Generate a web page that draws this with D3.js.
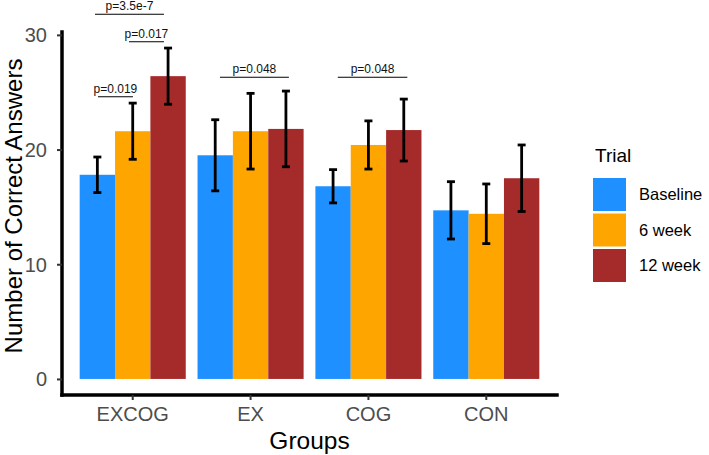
<!DOCTYPE html>
<html><head><meta charset="utf-8">
<script src="https://cdn.jsdelivr.net/npm/d3@7"></script>
<style>body{margin:0;background:#fff}svg{display:block}</style>
</head><body>
<svg id="chart" width="709" height="455"></svg>
<script>
const groups = ["EXCOG", "EX", "COG", "CON"];
const trials = ["Baseline", "6 week", "12 week"];
const trialColors = ["#1E90FF", "#FFA500", "#A52A2A"];
const baselineMean = [17.8, 19.5, 16.8, 14.7];
const baselineErr  = [1.55, 3.1, 1.45, 2.5];
const week6Mean    = [21.6, 21.6, 20.4, 14.4];
const week6Err     = [2.45, 3.3, 2.1, 2.6];
const week12Mean   = [26.4, 21.8, 21.7, 17.5];
const week12Err    = [2.45, 3.3, 2.7, 2.9];
const yTicks = [0, 10, 20, 30];
// significance brackets (x in category units, group i centred at i+1)
const pLabels = ["p=0.019", "p=0.017", "p=3.5e-7", "p=0.048", "p=0.048"];
const pFrom   = [0.705, 0.968, 0.68, 1.74, 2.74];
const pTo     = [1.002, 1.265, 1.265, 2.325, 3.33];
const pY      = [24.6, 29.4, 31.8, 26.3, 26.3];

(function () {
const meansByTrial = [baselineMean, week6Mean, week12Mean];
const errsByTrial = [baselineErr, week6Err, week12Err];
const data = [];
groups.forEach((g, gi) => trials.forEach((t, ti) => data.push({
  group: g, trial: t, ti: ti, value: meansByTrial[ti][gi], err: errsByTrial[ti][gi]
})));

const svg = d3.select("#chart");
const pLeft = 62, pRight = 557, pTop = 32, pBottom = 395;
const font = "'Liberation Sans', Arial, Helvetica, sans-serif";

const x = d3.scaleBand().domain(groups).range([pLeft, pRight]).paddingInner(0.1).paddingOuter(0.15);
const xInner = d3.scaleBand().domain(trials).range([0, x.bandwidth()]);
const xu = d3.scaleLinear().domain([0.4, 4.6]).range([pLeft, pRight]);
const y = d3.scaleLinear().domain([-1.4, 30.25]).range([pBottom, pTop]);
const color = d3.scaleOrdinal().domain(trials).range(trialColors);

// bars
svg.append("g").selectAll("rect").data(data).join("rect")
  .attr("x", d => x(d.group) + xInner(d.trial))
  .attr("width", xInner.bandwidth())
  .attr("y", d => y(d.value))
  .attr("height", d => y(0) - y(d.value))
  .attr("fill", d => color(d.trial));

// error bars
const eb = svg.append("g").attr("stroke", "#000").attr("stroke-width", 2.8);
data.forEach(d => {
  const cx = x(d.group) + xInner(d.trial) + xInner.bandwidth() / 2;
  eb.append("line").attr("x1", cx).attr("x2", cx).attr("y1", y(d.value - d.err)).attr("y2", y(d.value + d.err));
  eb.append("line").attr("x1", cx - 4).attr("x2", cx + 4).attr("y1", y(d.value - d.err)).attr("y2", y(d.value - d.err));
  eb.append("line").attr("x1", cx - 4).attr("x2", cx + 4).attr("y1", y(d.value + d.err)).attr("y2", y(d.value + d.err));
});

// axes
const yAxis = svg.append("g").attr("transform", `translate(${pLeft},0)`)
  .call(d3.axisLeft(y).tickValues(yTicks).tickSize(5).tickSizeOuter(0).tickPadding(10));
const xAxis = svg.append("g").attr("transform", `translate(0,${pBottom})`)
  .call(d3.axisBottom(x).tickSize(5).tickSizeOuter(0));
[yAxis, xAxis].forEach(a => {
  a.select(".domain").attr("stroke", "#000").attr("stroke-width", 3.5).attr("stroke-linecap", "square");
  a.selectAll(".tick line").attr("stroke", "#333").attr("stroke-width", 2);
  a.selectAll(".tick text").attr("font-family", font).attr("font-size", 20).attr("fill", "#4d4d4d");
});
yAxis.select(".domain").attr("d", `M0,${pTop}V${pBottom}`);
xAxis.select(".domain").attr("d", `M${pLeft},0H${pRight}`);
yAxis.selectAll(".tick text").attr("dy", "0.35em");
xAxis.selectAll(".tick text").attr("y", 26).attr("dy", 0);

// axis titles
svg.append("text").attr("transform", `translate(22,${(pTop + 380) / 2}) rotate(-90)`)
  .attr("text-anchor", "middle").attr("font-family", font).attr("font-size", 24).attr("fill", "#000")
  .text("Number of Correct Answers");
svg.append("text").attr("x", (pLeft + pRight) / 2).attr("y", 449)
  .attr("text-anchor", "middle").attr("font-family", font).attr("font-size", 24.5).attr("fill", "#000")
  .text("Groups");

// significance brackets
const sig = svg.append("g");
pLabels.forEach((lab, i) => {
  sig.append("line").attr("x1", xu(pFrom[i])).attr("x2", xu(pTo[i]))
    .attr("y1", y(pY[i])).attr("y2", y(pY[i])).attr("stroke", "#000").attr("stroke-width", 1.1);
  sig.append("text").attr("x", (xu(pFrom[i]) + xu(pTo[i])) / 2).attr("y", y(pY[i]) - 4)
    .attr("text-anchor", "middle").attr("font-family", font).attr("font-size", 12).attr("fill", "#111")
    .text(lab);
});

// legend
const lg = svg.append("g");
lg.append("text").attr("x", 595).attr("y", 162).attr("font-family", font).attr("font-size", 19)
  .attr("fill", "#000").text("Trial");
trials.forEach((t, i) => {
  const ky = 178 + i * 35.5;
  lg.append("rect").attr("x", 593).attr("y", ky).attr("width", 33).attr("height", 33).attr("fill", color(t));
  lg.append("text").attr("x", 639).attr("y", ky + 16.5).attr("dy", "0.35em")
    .attr("font-family", font).attr("font-size", 16.5).attr("fill", "#000").text(t);
});
})();
</script>
</body></html>
